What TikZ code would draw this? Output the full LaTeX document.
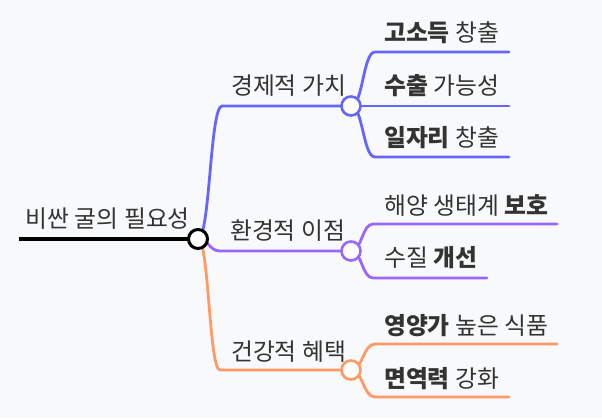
\documentclass[tikz,border=0pt]{standalone}
\usepackage{fontspec}
\setmainfont{Noto Sans CJK KR}
\definecolor{cblue}{HTML}{6666FF}
\definecolor{cpurple}{HTML}{9966FF}
\definecolor{corange}{HTML}{FF9966}
\definecolor{bg}{HTML}{F8F9FB}
\definecolor{txt}{HTML}{333333}
\begin{document}
\begin{tikzpicture}[x=1pt,y=-1pt,
  lbl/.style={font=\fontsize{23.8}{28}\selectfont, text=txt, inner sep=0pt, anchor=west},
  link/.style={line width=2.8pt, line cap=round},
  dot/.style={circle, fill=white, line width=2.6pt, minimum size=19pt, inner sep=0pt}]
\fill[bg] (0,0) rectangle (602,418);
\useasboundingbox (0,0) rectangle (602,418);
% centres
\coordinate (c0) at (198,239);
\coordinate (rs) at (19,239);
\coordinate (b0) at (222,106);
\coordinate (b1) at (351,106);
\coordinate (p0) at (220,251);
\coordinate (p1) at (351,251);
\coordinate (o0) at (220,370);
\coordinate (o1) at (351,370);
% leaf lines
\coordinate (ba) at (375,52);  \coordinate (bae) at (509,52);
\coordinate (bbe) at (509,106);
\coordinate (bc) at (375,157); \coordinate (bce) at (509,157);
\coordinate (pa) at (373,224); \coordinate (pae) at (557,224);
\coordinate (pb) at (373,278); \coordinate (pbe) at (487,278);
\coordinate (oa) at (375,344); \coordinate (oae) at (557,344);
\coordinate (ob) at (375,397); \coordinate (obe) at (509,397);
% root line
\draw[line width=4.2pt, black] (rs) -- (c0);
% blue
\draw[link, cblue] (c0) .. controls +(12,0) and +(-12,0) .. (b0) -- (b1);
\draw[link, cblue] (b1) .. controls +(12,0) and +(-12,0) .. (ba) -- (bae);
\draw[link, cblue] (b1) -- (bbe);
\draw[link, cblue] (b1) .. controls +(12,0) and +(-12,0) .. (bc) -- (bce);
% purple
\draw[link, cpurple] (c0) .. controls +(11,0) and +(-11,0) .. (p0) -- (p1);
\draw[link, cpurple] (p1) .. controls +(11,0) and +(-11,0) .. (pa) -- (pae);
\draw[link, cpurple] (p1) .. controls +(11,0) and +(-11,0) .. (pb) -- (pbe);
% orange
\draw[link, corange] (c0) .. controls +(11,0) and +(-11,0) .. (o0) -- (o1);
\draw[link, corange] (o1) .. controls +(12,0) and +(-12,0) .. (oa) -- (oae);
\draw[link, corange] (o1) .. controls +(12,0) and +(-12,0) .. (ob) -- (obe);
% circles
\node[dot, draw=black, line width=3pt] (root) at (c0) {};
\node[dot, draw=cblue] (nb) at (b1) {};
\node[dot, draw=cpurple] (np) at (p1) {};
\node[dot, draw=corange] (no) at (o1) {};
% labels
\node[lbl, anchor=east] (tr) at (190,219) {비싼 굴의 필요성};
\node[lbl] (tb) at (231,86) {경제적 가치};
\node[lbl] (tp) at (230,231) {환경적 이점};
\node[lbl] (to) at (231,352) {건강적 혜택};
\node[lbl] (tba) at (384,33) {\textbf{고소득} 창출};
\node[lbl] (tbb) at (384,86) {\textbf{수출} 가능성};
\node[lbl] (tbc) at (384,138) {\textbf{일자리} 창출};
\node[lbl] (tpa) at (384,205) {해양 생태계 \textbf{보호}};
\node[lbl] (tpb) at (384,258) {수질 \textbf{개선}};
\node[lbl] (toa) at (384,326) {\textbf{영양가} 높은 식품};
\node[lbl] (tob) at (384,379) {\textbf{면역력} 강화};
\end{tikzpicture}
\end{document}
